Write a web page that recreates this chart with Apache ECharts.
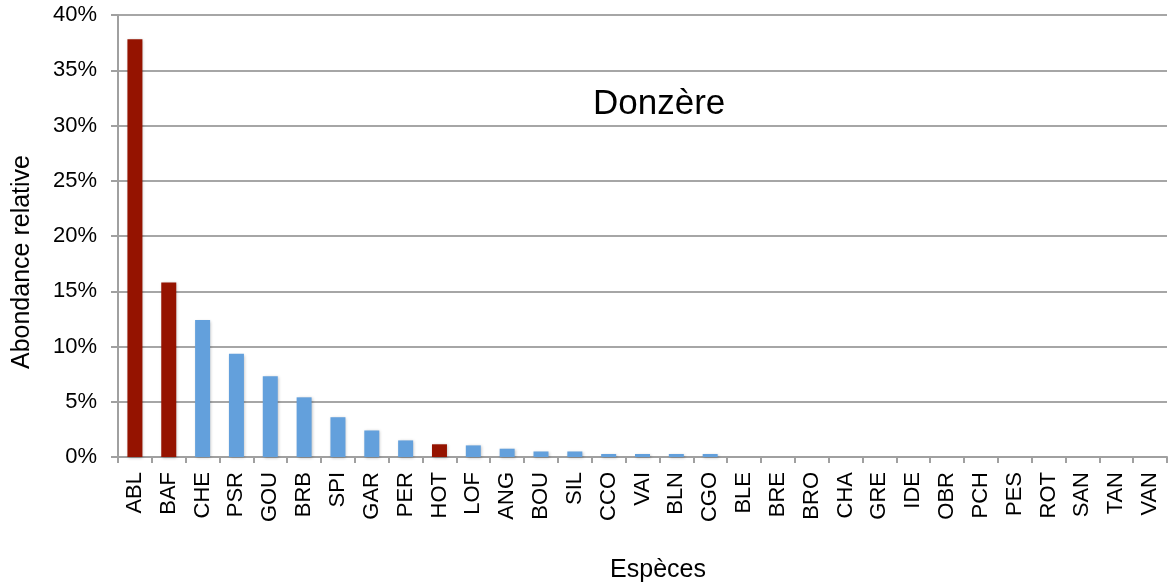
<!DOCTYPE html>
<html>
<head>
<meta charset="utf-8">
<script src="https://cdn.jsdelivr.net/npm/echarts@6/dist/echarts.min.js"></script>
<style>
  html, body { margin: 0; padding: 0; background: #fff; }
  #chart { width: 1168px; height: 587px; }
</style>
</head>
<body>
<div id="chart"></div>
<script>
// species codes, in the order of the x axis
var species = ['ABL', 'BAF', 'CHE', 'PSR', 'GOU', 'BRB', 'SPI', 'GAR', 'PER', 'HOT',
    'LOF', 'ANG', 'BOU', 'SIL', 'CCO', 'VAI', 'BLN', 'CGO', 'BLE', 'BRE',
    'BRO', 'CHA', 'GRE', 'IDE', 'OBR', 'PCH', 'PES', 'ROT', 'SAN', 'TAN', 'VAN'];
// relative abundance, in percent
var abundance = [37.8, 15.8, 12.4, 9.35, 7.3, 5.4, 3.6, 2.4, 1.5, 1.15,
    1.05, 0.75, 0.5, 0.5, 0.27, 0.27, 0.27, 0.27, 0, 0,
    0, 0, 0, 0, 0, 0, 0, 0, 0, 0, 0];
// species drawn in dark red
var highlighted = ['ABL', 'BAF', 'HOT'];
var yTicks = [0, 5, 10, 15, 20, 25, 30, 35, 40];

var red = '#951300';
var blue = '#63A0DC';
var font = 'Liberation Sans, Arial, sans-serif';

var chart = echarts.init(document.getElementById('chart'));

var barData = species.map(function (name, i) {
    return {
        value: abundance[i],
        itemStyle: { color: highlighted.indexOf(name) >= 0 ? red : blue }
    };
});

var options = {
    animation: false,
    title: {
        text: 'Donzère',
        left: 588,
        top: 82,
        textStyle: { fontFamily: font, fontSize: 35, fontWeight: 'normal', color: '#000' }
    },
    // axis names sit a little off-centre in the original, so they are placed by hand
    graphic: [
        {
            type: 'text',
            x: 22,
            y: 262,
            rotation: Math.PI / 2,
            style: {
                text: 'Abondance relative',
                font: '25px ' + font,
                fill: '#000',
                align: 'center',
                verticalAlign: 'middle'
            }
        },
        {
            type: 'text',
            x: 658,
            y: 570,
            style: {
                text: 'Espèces',
                font: '25px ' + font,
                fill: '#000',
                align: 'center',
                verticalAlign: 'middle'
            }
        }
    ],
    grid: {
        left: 118,
        right: 1,
        top: 15,
        bottom: 130,
        containLabel: false,
        outerBoundsMode: 'none'
    },
    xAxis: {
        type: 'category',
        data: species,
        axisLine: { lineStyle: { color: '#a0a0a0', width: 2 } },
        axisTick: { show: true, length: 6, lineStyle: { color: '#a0a0a0', width: 2 } },
        axisLabel: {
            rotate: 90,
            margin: 15,
            interval: 0,
            fontFamily: font,
            fontSize: 22,
            color: '#000'
        }
    },
    yAxis: {
        type: 'value',
        min: yTicks[0],
        max: yTicks[yTicks.length - 1],
        interval: 5,
        axisLine: { show: true, lineStyle: { color: '#a0a0a0', width: 2 } },
        axisTick: { show: true, length: 7, lineStyle: { color: '#a0a0a0', width: 2 } },
        splitLine: { lineStyle: { color: '#a6a6a6', width: 2 } },
        axisLabel: {
            margin: 21,
            fontFamily: font,
            fontSize: 22,
            color: '#000',
            formatter: function (v) { return v + '%'; }
        }
    },
    series: [{
        type: 'bar',
        data: barData,
        barWidth: 15,
        itemStyle: {
            shadowColor: 'rgba(0,0,0,0.25)',
            shadowBlur: 3,
            shadowOffsetX: 1,
            shadowOffsetY: 1
        }
    }]
};
chart.setOption(options);
</script>
</body>
</html>
